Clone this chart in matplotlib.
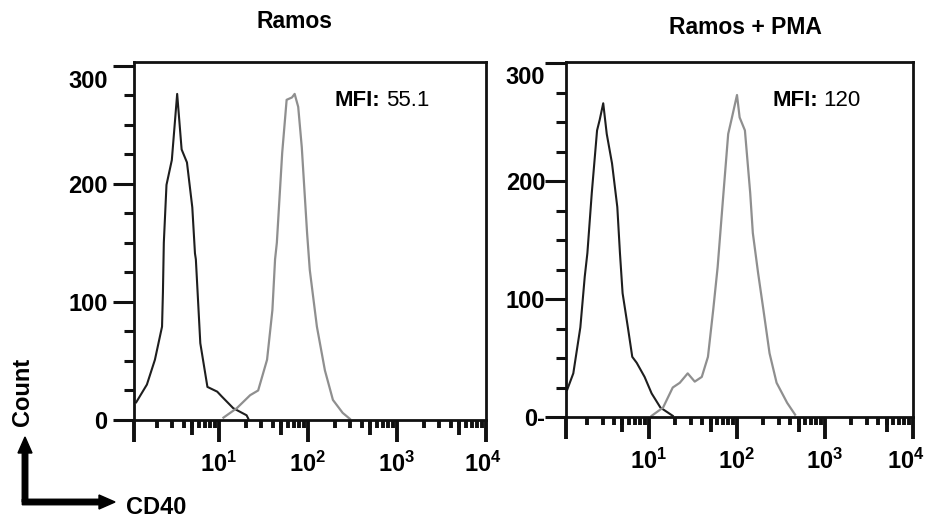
import numpy as np
import matplotlib
matplotlib.use("Agg")
import matplotlib.pyplot as plt
from matplotlib.ticker import FixedLocator, LogLocator, NullFormatter, FixedFormatter
from matplotlib.transforms import ScaledTranslation

plt.rcParams['font.family'] = ['Liberation Sans', 'DejaVu Sans']
plt.rcParams['mathtext.fontset'] = 'custom'
plt.rcParams['mathtext.rm'] = 'Liberation Sans'
plt.rcParams['mathtext.bf'] = 'Liberation Sans:bold'
plt.rcParams['mathtext.it'] = 'Liberation Sans:italic'

# ---------------- data ----------------
panel_titles = ["Ramos", "Ramos + PMA"]
mfi_values = ["55.1", "120"]
x_tick_values = [10, 100, 1000, 10000]
x_tick_labels = [r"$\mathbf{10^{1}}$", r"$\mathbf{10^{2}}$", r"$\mathbf{10^{3}}$", r"$\mathbf{10^{4}}$"]
x_mid_ticks = [5, 50, 500, 5000]
y_tick_values = [0, 100, 200, 300]
y_tick_labels = [["0", "100", "200", "300"], ["0-", "100", "200", "300"]]

# Ramos: isotype control (black) - log10 fluorescence / count
ramos_ctrl_logx = [0.07, 0.19, 0.28, 0.36, 0.37, 0.38, 0.41, 0.47, 0.53, 0.58, 0.64, 0.70,
                   0.73, 0.74, 0.79, 0.87, 0.98, 1.03, 1.16, 1.31, 1.33]
ramos_ctrl_count = [15, 30, 51, 79, 108, 150, 199, 220, 276, 229, 218, 180,
                    141, 136, 65, 28, 24, 20, 10, 4, 1]
# Ramos: CD40 stain (grey)
ramos_cd40_logx = [1.05, 1.20, 1.35, 1.44, 1.54, 1.60, 1.63, 1.65, 1.71, 1.76, 1.82, 1.85,
                   1.89, 1.93, 1.99, 2.02, 2.10, 2.19, 2.28, 2.39, 2.47]
ramos_cd40_count = [2, 10, 21, 25, 51, 93, 136, 150, 226, 271, 273, 276,
                    265, 231, 158, 127, 79, 42, 17, 6, 1]
# Ramos + PMA: isotype control (black)
pma_ctrl_logx = [0.07, 0.14, 0.22, 0.27, 0.30, 0.35, 0.41, 0.44, 0.48, 0.52, 0.58, 0.64,
                 0.67, 0.70, 0.76, 0.81, 0.86, 0.95, 1.03, 1.13, 1.27]
pma_ctrl_count = [23, 37, 76, 119, 139, 190, 243, 252, 266, 240, 215, 178,
                  139, 105, 76, 51, 46, 34, 20, 8, 1]
# Ramos + PMA: CD40 stain (grey)
pma_cd40_logx = [1.03, 1.16, 1.27, 1.35, 1.44, 1.52, 1.60, 1.67, 1.73, 1.78, 1.84, 1.90,
                 1.94, 2.00, 2.03, 2.09, 2.15, 2.18, 2.24, 2.30, 2.37, 2.45, 2.57, 2.66]
pma_cd40_count = [1, 8, 25, 29, 37, 30, 34, 51, 91, 127, 184, 240,
                  253, 273, 254, 243, 190, 156, 122, 91, 54, 29, 12, 2]

panels = [
    (ramos_ctrl_logx, ramos_ctrl_count, ramos_cd40_logx, ramos_cd40_count),
    (pma_ctrl_logx, pma_ctrl_count, pma_cd40_logx, pma_cd40_count),
]

# ---------------- figure ----------------
W, H = 926, 524
fig = plt.figure(figsize=(W / 100, H / 100), dpi=100)

boxes = [
    (134, 486, 62, 420, 10 ** 0.045, 303),
    (566, 913, 62, 417, 10 ** 0.057, 301),
]
title_pos = [(295, 21), (745, 27)]
mfi_pos = [(335, 101), (772, 100)]
ylab_pad = [4, 0]
top_label_drop = [-11.5, -10]
last_label_shift = [-3, -7]

for i, ((l, r, t, b, xmin, ymax), data) in enumerate(zip(boxes, panels)):
    ax = fig.add_axes([l / W, 1 - b / H, (r - l) / W, (b - t) / H])
    cx, cc, sx, sc = data
    ax.plot(10 ** np.array(cx), cc, color="#1e1e1e", lw=1.5, solid_joinstyle="round")
    ax.plot(10 ** np.array(sx), sc, color="#8f8f8f", lw=1.6, solid_joinstyle="round")
    ax.set_xscale("log")
    ax.set_xlim(xmin, 1e4)
    ax.set_ylim(0, ymax)

    for s in ax.spines.values():
        s.set_linewidth(2.0)
        s.set_color("#111111")

    # x ticks
    ax.xaxis.set_major_locator(FixedLocator([xmin] + x_tick_values))
    ax.xaxis.set_major_formatter(FixedFormatter([""] + x_tick_labels))
    ax.xaxis.set_minor_locator(LogLocator(base=10, subs=np.arange(2, 10), numticks=20))
    ax.xaxis.set_minor_formatter(NullFormatter())
    ax.tick_params(axis="x", which="major", direction="out", length=16, width=2.8,
                   pad=7, labelsize=17, color="#111111")
    ax.tick_params(axis="x", which="minor", direction="out", length=6, width=2.8,
                   color="#111111")
    # medium-length ticks at the half decades
    sec = ax.secondary_xaxis("bottom")
    sec.set_xscale("log")
    sec.xaxis.set_major_locator(FixedLocator(x_mid_ticks))
    sec.xaxis.set_major_formatter(NullFormatter())
    sec.xaxis.set_minor_locator(FixedLocator([]))
    sec.tick_params(axis="x", which="major", direction="out", length=11, width=2.8,
                    color="#111111")
    sec.spines["bottom"].set_visible(False)

    # y ticks
    labs = y_tick_labels[i]
    ax.yaxis.set_major_locator(FixedLocator(y_tick_values))
    ax.yaxis.set_major_formatter(FixedFormatter(labs[:-1] + [""]))
    ax.yaxis.set_minor_locator(FixedLocator([25, 50, 75, 125, 150, 175, 225, 250, 275]))
    ax.tick_params(axis="y", which="major", direction="out", length=15, width=2.2,
                   pad=ylab_pad[i], labelsize=17, color="#111111")
    ax.tick_params(axis="y", which="minor", direction="out", length=7, width=2.2,
                   color="#111111")
    for lab in ax.get_yticklabels():
        lab.set_fontweight("bold")
    # the "300" label sits a little below its tick
    ax.annotate(labs[-1], xy=(0, 300), xycoords=("axes fraction", "data"),
                xytext=(-(15 + ylab_pad[i]), top_label_drop[i]), textcoords="offset points",
                ha="right", va="center", fontsize=17, fontweight="bold")

    # last x label is nudged left so it stays inside the figure
    xl = ax.get_xticklabels()[-1]
    xl.set_transform(xl.get_transform() +
                     ScaledTranslation(last_label_shift[i] / 100, 0, fig.dpi_scale_trans))

    fig.text(title_pos[i][0] / W, 1 - title_pos[i][1] / H, panel_titles[i],
             ha="center", va="center", fontsize=16.5, fontweight="bold")
    t1 = fig.text(mfi_pos[i][0] / W, 1 - mfi_pos[i][1] / H, "MFI:",
                  ha="left", va="center", fontsize=16, fontweight="bold")
    ax.annotate(mfi_values[i], xy=(1, 0.5), xycoords=t1, xytext=(4, 0),
                textcoords="offset points", ha="left", va="center", fontsize=16)

# Count / CD40 arrows
ox, oy = 25 / W, 1 - 502 / H
fig.add_artist(matplotlib.patches.FancyArrow(
    ox, oy, 0, (502 - 437) / H, width=5.5 / W, head_width=14 / W,
    head_length=16 / H, length_includes_head=True, color="black",
    transform=fig.transFigure))
fig.add_artist(matplotlib.patches.FancyArrow(
    ox - 2.7 / W, oy, (115 - 22.3) / W, 0, width=5.5 / H, head_width=14 / H,
    head_length=16 / W, length_includes_head=True, color="black",
    transform=fig.transFigure))
fig.text(22 / W, 1 - 392 / H, "Count", rotation=90, ha="center", va="center",
         fontsize=17, fontweight="bold")
fig.text(126 / W, 1 - 507 / H, "CD40", ha="left", va="center",
         fontsize=17, fontweight="bold")

fig.savefig("out.png", dpi=100)
